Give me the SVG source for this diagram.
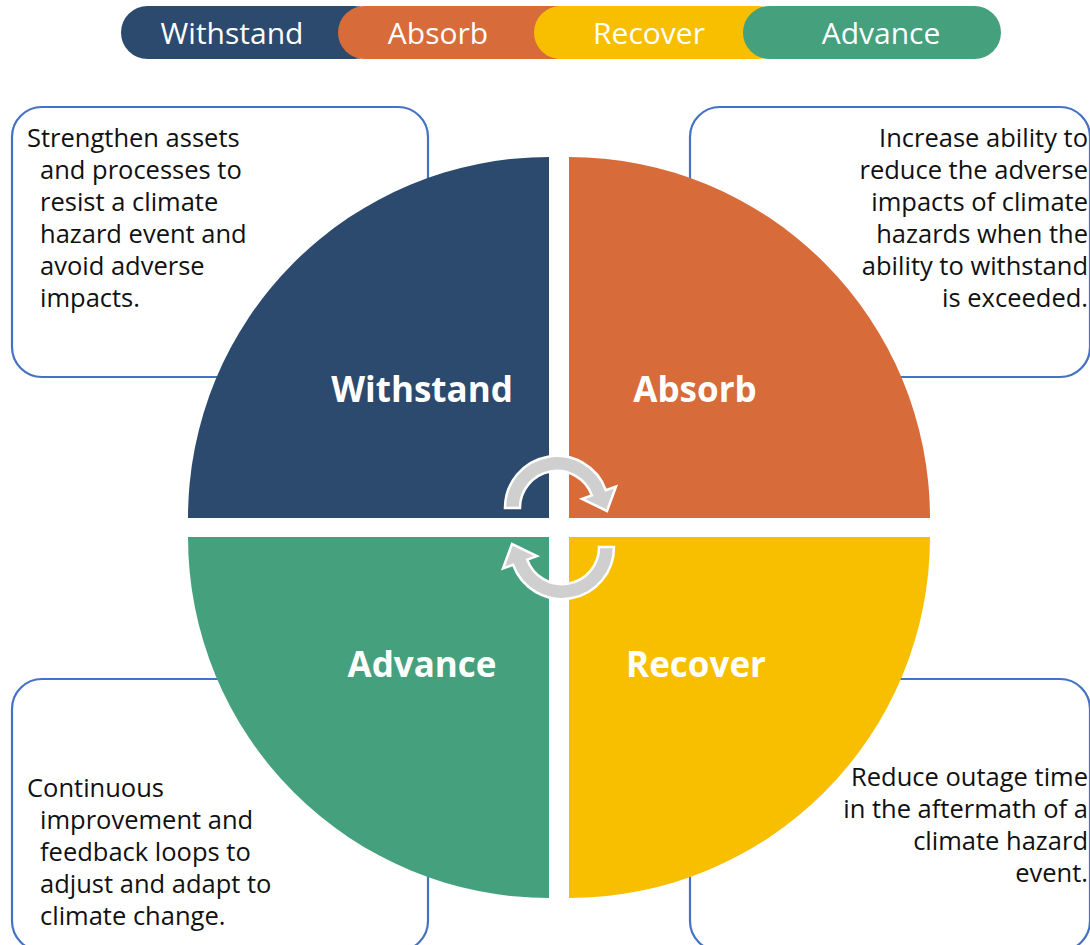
<svg xmlns="http://www.w3.org/2000/svg" width="1090" height="945" viewBox="0 0 1090 945">
<style>
.box{fill:#fff;stroke:#4472C4;stroke-width:2.2}
.desc{font-family:"Open Sans","Liberation Sans",sans-serif;font-size:25.5px;fill:#111}
.pilltxt{font-family:"Open Sans","Liberation Sans",sans-serif;font-size:30px;fill:#fff;text-anchor:middle}
.qtxt{font-family:"Open Sans","Liberation Sans",sans-serif;font-size:35px;font-weight:bold;fill:#fff;text-anchor:middle}
.navy{fill:#2C4A6D}.orange{fill:#D86B3A}.yellow{fill:#F7BF00}.green{fill:#45A07E}
.arr{fill:#CFCFCF;stroke:#fff;stroke-width:2.5;stroke-linejoin:miter}
</style>
<rect width="1090" height="945" fill="#fff"/>
<g id="legend">
<rect class="navy" x="121" y="6" width="260" height="53" rx="26.5"/>
<rect class="orange" x="338" y="6" width="245" height="53" rx="26.5"/>
<rect class="yellow" x="534" y="6" width="250" height="53" rx="26.5"/>
<rect class="green" x="743" y="6" width="258" height="53" rx="26.5"/>
<text class="pilltxt" x="232" y="44">Withstand</text>
<text class="pilltxt" x="438" y="44">Absorb</text>
<text class="pilltxt" x="649" y="44">Recover</text>
<text class="pilltxt" x="881" y="44">Advance</text>
</g>
<g id="box-withstand">
<rect class="box" x="12" y="107" width="416" height="270" rx="30"/>
<text class="desc"><tspan x="27" y="147">Strengthen assets</tspan><tspan x="40" y="179">and processes to</tspan><tspan x="40" y="211">resist a climate</tspan><tspan x="40" y="243">hazard event and</tspan><tspan x="40" y="275">avoid adverse</tspan><tspan x="40" y="307">impacts.</tspan></text>
</g>
<g id="box-absorb">
<rect class="box" x="690" y="107" width="400" height="270" rx="30"/>
<text class="desc" text-anchor="end"><tspan x="1088" y="147">Increase ability to</tspan><tspan x="1088" y="179">reduce the adverse</tspan><tspan x="1088" y="211">impacts of climate</tspan><tspan x="1088" y="243">hazards when the</tspan><tspan x="1088" y="275">ability to withstand</tspan><tspan x="1088" y="307">is exceeded.</tspan></text>
</g>
<g id="box-advance">
<rect class="box" x="12" y="679" width="416" height="272" rx="30"/>
<text class="desc"><tspan x="27" y="797">Continuous</tspan><tspan x="40" y="829">improvement and</tspan><tspan x="40" y="861">feedback loops to</tspan><tspan x="40" y="893">adjust and adapt to</tspan><tspan x="40" y="925">climate change.</tspan></text>
</g>
<g id="box-recover">
<rect class="box" x="690" y="679" width="400" height="272" rx="30"/>
<text class="desc" text-anchor="end"><tspan x="1088" y="786">Reduce outage time</tspan><tspan x="1088" y="818">in the aftermath of a</tspan><tspan x="1088" y="850">climate hazard</tspan><tspan x="1088" y="882">event.</tspan></text>
</g>
<g id="q-withstand">
<path class="navy" d="M549 518 L188 518 A361 361 0 0 1 549 157 Z"/>
<text class="qtxt" x="422" y="402">Withstand</text>
</g>
<g id="q-absorb">
<path class="orange" d="M569 518 L569 157 A361 361 0 0 1 930 518 Z"/>
<text class="qtxt" x="695" y="402">Absorb</text>
</g>
<g id="q-recover">
<path class="yellow" d="M569 537 L930 537 A361 361 0 0 1 569 898 Z"/>
<text class="qtxt" x="696" y="677">Recover</text>
</g>
<g id="q-advance">
<path class="green" d="M549 537 L549 898 A361 361 0 0 1 188 537 Z"/>
<text class="qtxt" x="422" y="677">Advance</text>
</g>
<g id="connectors">
<path id="arrow-top" class="arr" d="M520 508 L505 508 A52 52 0 0 1 605.9 490.2 L616 486.5 L607 511 L582 499 L591.8 495.3 A37 37 0 0 0 520 508 Z"/>
<path id="arrow-bottom" class="arr" transform="rotate(180 559.5 527.5)" d="M520 508 L505 508 A52 52 0 0 1 605.9 490.2 L616 486.5 L607 511 L582 499 L591.8 495.3 A37 37 0 0 0 520 508 Z"/>
</g>
</svg>
